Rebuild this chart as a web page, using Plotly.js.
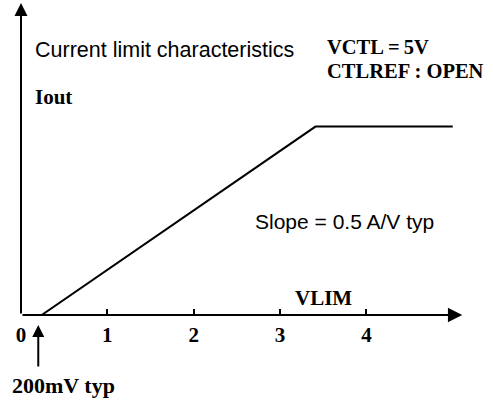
<!DOCTYPE html>
<html>
<head>
<meta charset="utf-8">
<script src="https://cdn.plot.ly/plotly-3.0.1.min.js"></script>
<style>html,body{margin:0;padding:0;background:#fff;}#chart{width:493px;height:405px;}</style>
</head>
<body>
<div id="chart"></div>
<script>
// Characteristic curve: VLIM (V) vs Iout (A)
const vlim = [0.24, 3.41, 5.0];
const iout = [0, 1.6, 1.6];
// x axis ticks
const tickValues = [0, 1, 2, 3, 4];
const tickLabels = ['0', '1', '2', '3', '4'];
// axis extents (arrow tips) and offset marker
const xAxisEnd = 5.11;
const yAxisEnd = 2.65;
const offsetV = 0.2;

const serif = {family: 'Liberation Serif, Times New Roman, serif', size: 21, color: '#000', weight: 'bold'};
const serif20 = {family: 'Liberation Serif, Times New Roman, serif', size: 20.5, color: '#000', weight: 'bold'};
const sans = {family: 'Liberation Sans, Arial, sans-serif', size: 21, color: '#000'};

const trace = {
  x: vlim, y: iout, type: 'scatter', mode: 'lines',
  line: {color: '#000', width: 2}, cliponaxis: false, hoverinfo: 'skip'
};

const annotations = [
  // axes drawn as arrows
  {x: xAxisEnd, y: 0, ax: 0, ay: 0, axref: 'x', ayref: 'y', xref: 'x', yref: 'y', text: '',
   showarrow: true, arrowhead: 2, arrowsize: 1.3, arrowwidth: 2.2, arrowcolor: '#000'},
  {x: 0, y: yAxisEnd, ax: 0, ay: 0, axref: 'x', ayref: 'y', xref: 'x', yref: 'y', text: '',
   showarrow: true, arrowhead: 2, arrowsize: 1.3, arrowwidth: 2, arrowcolor: '#000'},
  // 200mV marker arrow (below the axis, so placed in paper y)
  {x: offsetV, y: -0.032, xref: 'x', yref: 'paper', ax: 0, ay: 43, axref: 'pixel', ayref: 'pixel', text: '',
   showarrow: true, arrowhead: 2, arrowsize: 1.2, arrowwidth: 2, arrowcolor: '#000'},
  {x: 0.14, y: 2.25, xref: 'x', yref: 'y', xanchor: 'left', yanchor: 'middle', showarrow: false,
   text: 'Current limit characteristics', font: {family: sans.family, size: 21.5, color: '#000'}},
  {x: 3.52, y: 2.277, xref: 'x', yref: 'y', xanchor: 'left', yanchor: 'middle', showarrow: false,
   text: 'VCTL\u2009=\u20095V', font: serif20},
  {x: 3.52, y: 2.07, xref: 'x', yref: 'y', xanchor: 'left', yanchor: 'middle', showarrow: false,
   text: 'CTLREF : OPEN', font: serif20},
  {x: 0.14, y: 1.85, xref: 'x', yref: 'y', xanchor: 'left', yanchor: 'middle', showarrow: false,
   text: 'Iout', font: serif},
  {x: 2.69, y: 0.79, xref: 'x', yref: 'y', xanchor: 'left', yanchor: 'middle', showarrow: false,
   text: 'Slope = 0.5 A/V typ', font: sans},
  {x: 3.15, y: 0.145, xref: 'x', yref: 'y', xanchor: 'left', yanchor: 'middle', showarrow: false,
   text: 'VLIM', font: serif},
  {x: -0.0245, y: -0.2245, xref: 'paper', yref: 'paper', xanchor: 'left', yanchor: 'middle', showarrow: false,
   text: '200mV typ', font: {family: serif.family, size: 22, color: '#000', weight: 'bold'}}
];

const layout = {
  width: 493, height: 405,
  margin: {l: 21, r: 23, t: 3, b: 90},
  paper_bgcolor: '#fff', plot_bgcolor: '#fff',
  showlegend: false,
  xaxis: {
    range: [0, 5.2], showgrid: false, zeroline: false, showline: false,
    ticks: 'inside', ticklen: 6, tickwidth: 1.8, tickcolor: '#000',
    tickvals: tickValues, ticktext: tickLabels, ticklabelstandoff: 5,
    tickfont: serif, fixedrange: true
  },
  yaxis: {range: [0, 2.65], visible: false, fixedrange: true},
  annotations: annotations
};

Plotly.newPlot('chart', [trace], layout, {displayModeBar: false, staticPlot: true});
</script>
</body>
</html>
